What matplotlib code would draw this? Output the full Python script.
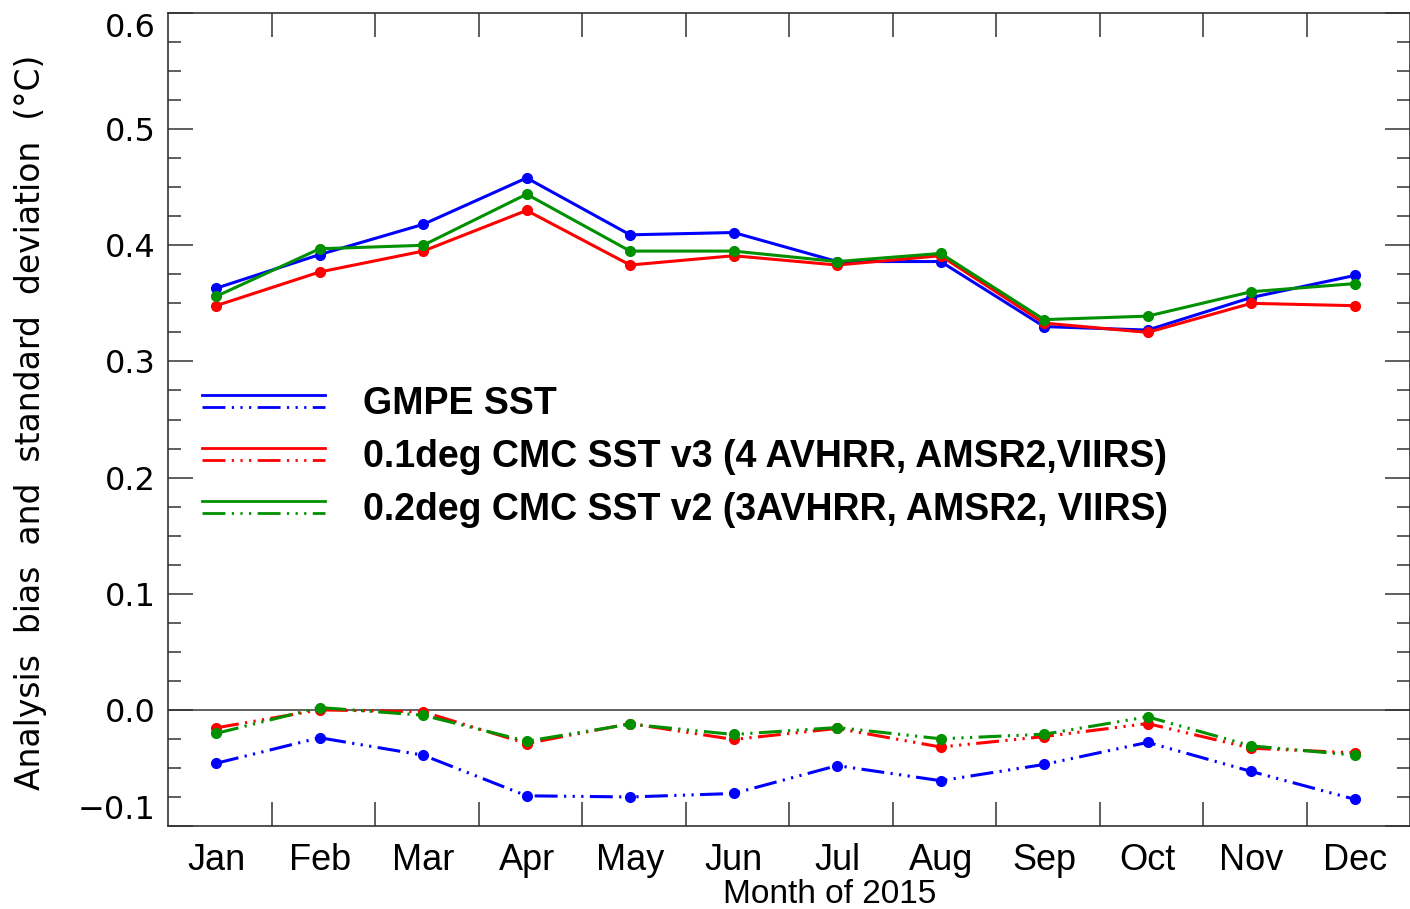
import matplotlib
matplotlib.use("Agg")
import matplotlib.pyplot as plt
from matplotlib.lines import Line2D
from matplotlib.legend_handler import HandlerBase
import numpy as np

plt.rcParams["lines.scale_dashes"] = False

months = ["Jan", "Feb", "Mar", "Apr", "May", "Jun", "Jul", "Aug", "Sep", "Oct", "Nov", "Dec"]

# standard deviation (solid)
gmpe_std = [0.363, 0.392, 0.418, 0.458, 0.409, 0.411, 0.386, 0.386, 0.330, 0.327, 0.355, 0.374]
cmc01_std = [0.348, 0.377, 0.395, 0.430, 0.383, 0.391, 0.383, 0.391, 0.333, 0.325, 0.350, 0.348]
cmc02_std = [0.356, 0.397, 0.400, 0.444, 0.395, 0.395, 0.386, 0.393, 0.336, 0.339, 0.360, 0.367]

# bias (dash-dot-dot-dot)
gmpe_bias = [-0.046, -0.024, -0.039, -0.074, -0.075, -0.072, -0.048, -0.061, -0.047, -0.028, -0.053, -0.077]
cmc01_bias = [-0.0155, 0.000, -0.0017, -0.029, -0.0118, -0.0255, -0.016, -0.032, -0.023, -0.0118, -0.033, -0.037]
cmc02_bias = [-0.0203, 0.002, -0.0046, -0.027, -0.0123, -0.0212, -0.0152, -0.0249, -0.021, -0.006, -0.031, -0.039]

labels = ["GMPE SST",
          "0.1deg CMC SST v3 (4 AVHRR, AMSR2,VIIRS)",
          "0.2deg CMC SST v2 (3AVHRR, AMSR2, VIIRS)"]
colors = ["#0000ff", "#ff0000", "#009000"]

x = np.arange(1, 13)
dashstyle = (0, (16.5, 4.6, 1.6, 4.6, 1.6, 4.6, 1.6, 4.6))

fig = plt.figure(figsize=(14.10, 9.09), dpi=100)
ax = fig.add_axes([168 / 1410, 83 / 909, 1242 / 1410, 813 / 909])

ax.axhline(0, color="#555555", lw=1.3, zorder=1)

handles = []
for std, bias, c in zip([gmpe_std, cmc01_std, cmc02_std],
                        [gmpe_bias, cmc01_bias, cmc02_bias], colors):
    l1, = ax.plot(x, std, color=c, lw=2.2, marker="o", ms=7, zorder=3)
    l2, = ax.plot(x, bias, color=c, lw=2.2, ls=dashstyle, marker="o", ms=7, zorder=3)
    handles.append((l1, l2))


class TwoLineHandler(HandlerBase):
    def create_artists(self, legend, orig_handle, xdescent, ydescent,
                       width, height, fontsize, trans):
        solid, dashed = orig_handle
        yc = height / 2 - ydescent
        off = 4.3
        a = Line2D([-xdescent, -xdescent + width], [yc + off, yc + off],
                   color=solid.get_color(), lw=2.0, transform=trans)
        b = Line2D([-xdescent, -xdescent + width], [yc - off, yc - off],
                   color=dashed.get_color(), lw=2.0, ls=dashstyle, transform=trans)
        return [a, b]


leg = ax.legend(handles, labels, handler_map={tuple: TwoLineHandler()},
                loc="center left", bbox_to_anchor=(0.0274, 0.454),
                frameon=False, borderpad=0, borderaxespad=0,
                handlelength=3.28, handletextpad=1.01, labelspacing=0.45,
                prop={"family": "Liberation Sans", "weight": "bold", "size": 27})

ax.set_xlim(0.535, 12.535)
ax.set_ylim(-0.1, 0.6)

ax.set_xticks(x)
ax.set_xticklabels(months, fontfamily="Liberation Sans", fontsize=26)
ax.set_xticks(np.arange(1.535, 12.5, 1.0), minor=True)
ax.tick_params(axis="x", which="major", length=0, pad=12)
ax.tick_params(axis="x", which="minor", direction="in", length=17, width=1.1,
               top=True, bottom=True, color="#333333")

yt = [-0.1, 0.0, 0.1, 0.2, 0.3, 0.4, 0.5, 0.6]
ax.set_yticks(yt)
ax.set_yticklabels(["\u22120.1", "0.0", "0.1", "0.2", "0.3", "0.4", "0.5", "0.6"],
                   fontfamily="DejaVu Sans", fontsize=23)
ax.set_yticks(np.arange(-0.1, 0.6001, 0.025), minor=True)
ax.tick_params(axis="y", which="major", direction="in", length=18, width=1.1,
               left=True, right=True, pad=9, color="#333333")
ax.tick_params(axis="y", which="minor", direction="in", length=9.5, width=1.1,
               left=True, right=True, color="#333333")
ylabs = ax.get_yticklabels()
ylabs[0].set_va("bottom")
ylabs[-1].set_va("top")

for s in ax.spines.values():
    s.set_color("#333333")
    s.set_linewidth(1.2)

ax.set_xlabel("Month of 2015", fontfamily="Liberation Sans", fontsize=24, labelpad=0)
ax.xaxis.set_label_coords(0.533, -0.065)
ax.set_ylabel("Analysis  bias  and  standard  deviation  (\u00b0C)",
              fontfamily="DejaVu Sans", fontsize=23.7)
ax.yaxis.set_label_coords(-0.0974, 0.497)

fig.savefig("out.png", dpi=100)
